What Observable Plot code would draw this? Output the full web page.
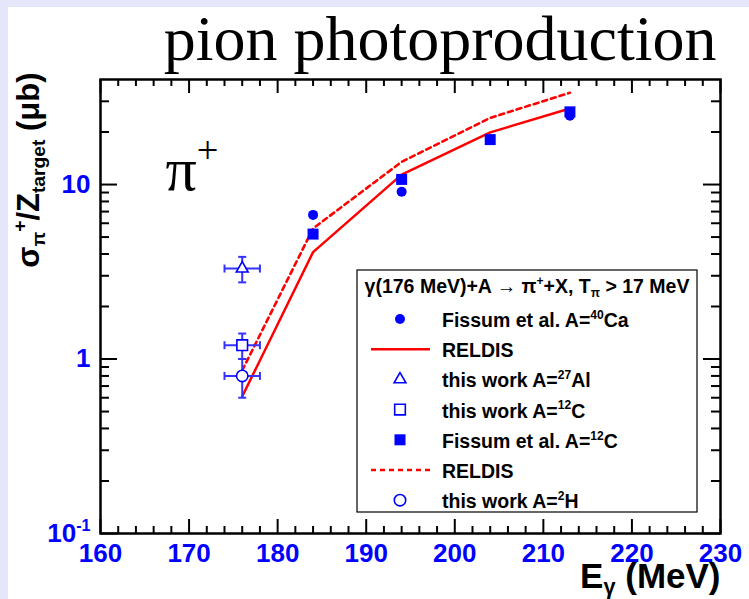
<!DOCTYPE html>
<html><head><meta charset="utf-8">
<script src="https://cdn.jsdelivr.net/npm/d3@7"></script>
<script src="https://cdn.jsdelivr.net/npm/@observablehq/plot@0.6"></script>
<style>
html,body{margin:0;padding:0;background:#e6e6fa;width:749px;height:599px;overflow:hidden}
#sheet{position:absolute;left:8px;top:7px;right:0;bottom:0;background:#fff}
#chart{position:absolute;left:0;top:0}
</style></head><body><div id="sheet"></div><div id="chart"></div>
<script>
// ---- data ----
const fissumCaEnergy = [184, 194, 213];
const fissumCaSigma  = [6.7, 9.1, 24.8];
const fissumCEnergy  = [184, 194, 204, 213];
const fissumCSigma   = [5.2, 10.7, 18.1, 26.1];
const reldisCaEnergy = [176, 184, 194, 204, 213];
const reldisCaSigma  = [0.61, 4.1, 11.4, 19.9, 27.3];
const reldisCEnergy  = [176, 184, 194, 204, 213];
const reldisCSigma   = [0.86, 5.6, 13.5, 24.1, 33.6];
const thisWorkTargets = ["Al", "C", "H"];
const thisWorkSymbols = ["triangle", "square", "circle"];
const thisWorkEnergy  = [176, 176, 176];
const thisWorkEnergyErr = [2, 2, 2];
const thisWorkSigma   = [3.3, 1.2, 0.8];
const thisWorkSigmaErr = [0.55, 0.2, 0.2];
const xTicks = [160, 170, 180, 190, 200, 210, 220, 230];
const yTicks = [0.1, 1, 10];
const yTickLabels = ["10^{-1}", "1", "10"];
const yMinor = [0.2,0.3,0.4,0.5,0.6,0.7,0.8,0.9,2,3,4,5,6,7,8,9,20,30];
const titleText = "pion photoproduction";
const xTitle = "E_{γ}\u00A0(MeV)";
const yTitle = "σ_{π}^{+}/Z_{target} (μb)";
const legendHeader = "γ(176 MeV)+A → π^{+}+X, T_{π} > 17 MeV";
const legendLabels = ["Fissum et al. A=^{40}Ca", "RELDIS", "this work A=^{27}Al", "this work A=^{12}C", "Fissum et al. A=^{12}C", "RELDIS", "this work A=^{2}H"];
const legendKinds  = ["fcircle", "solid", "triangle", "square", "fsquare", "dashed", "circle"];

// ---- build ----
const W = 749, H = 599, mL = 100, mR = 29, mT = 79, mB = 66;
const FW = W - mL - mR, FH = H - mT - mB;
const blue = "#0000ff", errBlue = "#3333ff", red = "#ff0000";
const sans = "Liberation Sans, Arial, Helvetica, sans-serif";
const serif = "Liberation Serif, Times New Roman, serif";

const fissumCa = fissumCaEnergy.map((e, i) => ({e, v: fissumCaSigma[i]}));
const fissumC = fissumCEnergy.map((e, i) => ({e, v: fissumCSigma[i]}));
const reldisCa = reldisCaEnergy.map((e, i) => ({e, v: reldisCaSigma[i]}));
const reldisC = reldisCEnergy.map((e, i) => ({e, v: reldisCSigma[i]}));
const work = thisWorkTargets.map((t, i) => ({t, s: thisWorkSymbols[i], e: thisWorkEnergy[i], ex: thisWorkEnergyErr[i], v: thisWorkSigma[i], ev: thisWorkSigmaErr[i]}));
const xMinor = d3.range(160, 231, 2).filter(d => d % 10 !== 0);

const hbar = {draw(ctx, size) {const r = Math.sqrt(size / Math.PI); ctx.moveTo(-r, 0); ctx.lineTo(r, 0);}};
const vbar = {draw(ctx, size) {const r = Math.sqrt(size / Math.PI); ctx.moveTo(0, -r); ctx.lineTo(0, r);}};
const workR = {triangle: 4.4, square: 6, circle: 5.7};

const tk = {stroke: "black", strokeWidth: 2};
const plot = Plot.plot({
  width: W, height: H, marginLeft: mL, marginRight: mR, marginTop: mT, marginBottom: mB,
  style: {background: "transparent", overflow: "visible"},
  x: {domain: [160, 230], axis: null},
  y: {type: "log", domain: [0.1, 40], axis: null},
  marks: [
    // ticks
    Plot.tickX(xTicks, {x: d => d, insetTop: FH - 14, ...tk}),
    Plot.tickX(xMinor, {x: d => d, insetTop: FH - 7, ...tk}),
    Plot.tickX(xTicks, {x: d => d, insetBottom: FH - 14, ...tk}),
    Plot.tickX(xMinor, {x: d => d, insetBottom: FH - 7, ...tk}),
    Plot.tickY(yTicks, {y: d => d, insetRight: FW - 17, ...tk}),
    Plot.tickY(yMinor, {y: d => d, insetRight: FW - 9, ...tk}),
    Plot.tickY(yTicks, {y: d => d, insetLeft: FW - 17, ...tk}),
    Plot.tickY(yMinor, {y: d => d, insetLeft: FW - 9, ...tk}),
    // tick labels
    Plot.text(xTicks, {x: d => d, frameAnchor: "bottom", dy: 20, lineAnchor: "middle", text: d => String(d), fill: blue, fontSize: 26, fontWeight: "bold", fontFamily: sans}),
    Plot.text(yTicks, {y: d => d, frameAnchor: "left", dx: -10, textAnchor: "end", lineAnchor: "middle", text: (d, i) => yTickLabels[i], fill: blue, fontSize: 26, fontWeight: "bold", fontFamily: sans}),
    // titles
    Plot.text([titleText], {frameAnchor: "top-right", dx: -4, dy: -20, textAnchor: "end", lineAnchor: "bottom", fill: "black", fontSize: 64, fontFamily: serif}),
    Plot.text([xTitle], {frameAnchor: "bottom-right", dx: 0, dy: 54, textAnchor: "end", lineAnchor: "bottom", fill: "black", fontSize: 35, fontWeight: "bold", fontFamily: sans}),
    Plot.text([yTitle], {frameAnchor: "top-left", dx: -71, dy: -7, rotate: -90, textAnchor: "end", lineAnchor: "middle", fill: "black", fontSize: 31, fontWeight: "bold", fontFamily: sans}),
    Plot.text(["π^{+}"], {frameAnchor: "top-left", dx: 65, dy: 110, textAnchor: "start", lineAnchor: "bottom", fill: "black", fontSize: 62, fontFamily: serif}),
    // RELDIS
    Plot.line(reldisCa, {x: "e", y: "v", stroke: red, strokeWidth: 2.5}),
    Plot.line(reldisC, {x: "e", y: "v", stroke: red, strokeWidth: 2.6, strokeDasharray: "5,4"}),
    // error bars
    Plot.ruleX(work, {x: "e", y1: d => d.v - d.ev, y2: d => d.v + d.ev, stroke: errBlue, strokeWidth: 2}),
    Plot.ruleY(work, {y: "v", x1: d => d.e - d.ex, x2: d => d.e + d.ex, stroke: errBlue, strokeWidth: 2}),
    Plot.dot(work, {x: "e", y: d => d.v - d.ev, symbol: hbar, r: 4, fill: "none", stroke: errBlue, strokeWidth: 2}),
    Plot.dot(work, {x: "e", y: d => d.v + d.ev, symbol: hbar, r: 4, fill: "none", stroke: errBlue, strokeWidth: 2}),
    Plot.dot(work, {x: d => d.e - d.ex, y: "v", symbol: vbar, r: 4, fill: "none", stroke: errBlue, strokeWidth: 2}),
    Plot.dot(work, {x: d => d.e + d.ex, y: "v", symbol: vbar, r: 4, fill: "none", stroke: errBlue, strokeWidth: 2}),
    // points
    ...work.map(d => Plot.dot([d], {x: "e", y: "v", symbol: d.s, r: workR[d.s], fill: "white", stroke: blue, strokeWidth: 1.6})),
    Plot.dot(fissumC, {x: "e", y: "v", symbol: "square", r: 6.2, fill: blue, stroke: "none"}),
    Plot.dot(fissumCa, {x: "e", y: "v", symbol: "circle", r: 5, fill: blue, stroke: "none"}),
    Plot.frame({stroke: "black", strokeWidth: 2.5})
  ]
});
document.getElementById("chart").appendChild(plot);

// ---- legend ----
const svg = d3.select(plot);
const lg = svg.append("g").attr("font-family", sans).attr("font-weight", "bold").attr("font-size", 19.5).attr("text-anchor", "start").attr("fill", "black");
lg.append("rect").attr("x", 357).attr("y", 270).attr("width", 340).attr("height", 242).attr("fill", "white").attr("stroke", "black").attr("stroke-width", 1.2);
lg.append("text").attr("x", 527).attr("y", 293).attr("text-anchor", "middle").text(legendHeader);
legendKinds.forEach((k, i) => {
  const y = 319 + i * 30.2;
  if (k === "solid" || k === "dashed") {
    lg.append("line").attr("x1", 371).attr("x2", 430).attr("y1", y).attr("y2", y).attr("stroke", red).attr("stroke-width", 2.5).attr("stroke-dasharray", k === "dashed" ? "5,4" : null);
  } else {
    const sym = {fcircle: d3.symbolCircle, circle: d3.symbolCircle, triangle: d3.symbolTriangle, square: d3.symbolSquare, fsquare: d3.symbolSquare}[k];
    const r = {fcircle: 5, circle: 5.7, triangle: 4.4, square: 6, fsquare: 6.2}[k];
    const filled = k.startsWith("f");
    lg.append("path").attr("transform", `translate(400,${y})`).attr("d", d3.symbol(sym, Math.PI * r * r)())
      .attr("fill", filled ? blue : "white").attr("stroke", filled ? "none" : blue).attr("stroke-width", 1.6);
  }
  lg.append("text").attr("x", 442).attr("y", y + 8).attr("text-anchor", "start").text(legendLabels[i]);
});

// ---- super/subscript rendering ----
function richify(el) {
  const s = el.textContent;
  if (!/[\^_]\{/.test(s)) return;
  const fs = parseFloat(getComputedStyle(el).fontSize) || 16;
  const parts = s.split(/(\^\{[^}]*\}|_\{[^}]*\})/).filter(p => p !== "");
  el.textContent = "";
  let cur = 0;
  for (const p of parts) {
    let target = 0, size = null, txt = p;
    if (p.startsWith("^{")) { target = -0.42 * fs; size = 0.62 * fs; txt = p.slice(2, -1); }
    else if (p.startsWith("_{")) { target = 0.18 * fs; size = 0.62 * fs; txt = p.slice(2, -1); }
    const t = document.createElementNS("http://www.w3.org/2000/svg", "tspan");
    if (target - cur) t.setAttribute("dy", (target - cur).toFixed(2));
    if (size) t.setAttribute("font-size", size.toFixed(2));
    t.textContent = txt;
    el.appendChild(t);
    cur = target;
  }
}
plot.querySelectorAll("text").forEach(richify);
</script></body></html>
